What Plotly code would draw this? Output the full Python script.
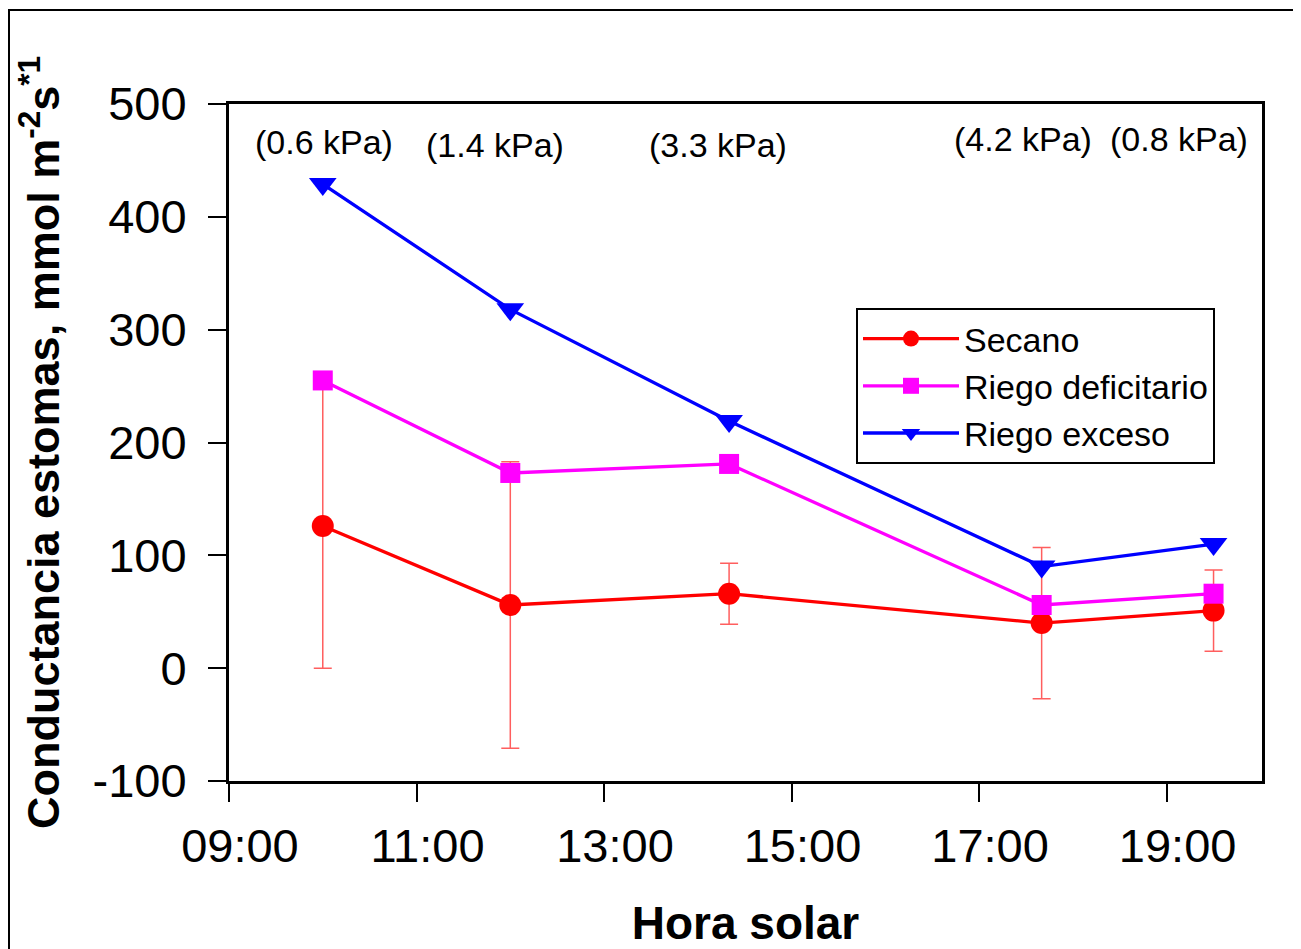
import plotly.graph_objects as go

# Data
times = ["2000-01-01 10:00", "2000-01-01 12:00", "2000-01-01 14:20",
         "2000-01-01 17:40", "2000-01-01 19:30"]
secano = [126, 56, 66, 40, 51]
secano_err = [126, 127, 27, 67, 36]
deficitario = [255, 173, 181, 56, 66]
exceso = [429, 318, 219, 90, 110]

y_ticks = [-100, 0, 100, 200, 300, 400, 500]
y_ticktext = ["-100", "0", "100", "200", "300", "400", "500"]

vpd_labels = ["(0.6 kPa)", "(1.4 kPa)", "(3.3 kPa)", "(4.2 kPa)", "(0.8 kPa)"]
vpd_x = ["2000-01-01 10:01", "2000-01-01 11:50", "2000-01-01 14:13",
         "2000-01-01 17:28", "2000-01-01 19:08"]
vpd_y = [466, 464, 464, 469, 469]

FONT = "Liberation Sans, Arial, sans-serif"

W, H = 1293, 941
L, T = 221, 96
PW, PH = 1033, 677

fig = go.Figure()
fig.add_trace(go.Scatter(
    x=times, y=secano, name="Secano", mode="lines+markers",
    line=dict(color="#ff0000", width=3.3),
    marker=dict(symbol="circle", size=22, color="#ff0000"),
    error_y=dict(type="data", array=secano_err, visible=True,
                 color="rgba(255,40,40,0.75)", thickness=1.5, width=9),
))
fig.add_trace(go.Scatter(
    x=times, y=deficitario, name="Riego deficitario", mode="lines+markers",
    line=dict(color="#ff00ff", width=3.3),
    marker=dict(symbol="square", size=20, color="#ff00ff"),
))
fig.add_trace(go.Scatter(
    x=times, y=exceso, name="Riego exceso", mode="lines+markers",
    line=dict(color="#0000ff", width=3.3),
    marker=dict(symbol="triangle-down", size=24, color="#0000ff"),
))
# invisible helper trace so the tick-label axis (xaxis2) is drawn
fig.add_trace(go.Scatter(
    x=times, y=secano, xaxis="x2", yaxis="y", mode="markers",
    marker=dict(opacity=0, size=1), showlegend=False, hoverinfo="skip",
))

for t, xx, yy in zip(vpd_labels, vpd_x, vpd_y):
    fig.add_annotation(x=xx, y=yy, text=t, showarrow=False,
                       font=dict(family=FONT, size=34, color="black"),
                       xanchor="center", yanchor="middle")

# outer frame of the figure
fig.add_shape(type="rect", xref="paper", yref="paper",
              x0=(1 - L) / PW, x1=1.2,
              y0=-0.5, y1=1 + (T - 2) / PH,
              line=dict(color="black", width=2), layer="below")

x_range = ["2000-01-01 09:00", "2000-01-01 20:01"]
# labels axis: same scale, shifted so labels sit slightly right of the ticks
x_label_range = ["2000-01-01 08:53", "2000-01-01 19:54"]

fig.update_layout(
    width=W, height=H,
    margin=dict(l=L, r=W - L - PW, t=T, b=H - T - PH, autoexpand=False),
    paper_bgcolor="white", plot_bgcolor="white",
    font=dict(family=FONT, color="black"),
    showlegend=True,
    legend=dict(x=(856 - 8 - L) / PW, y=1 - (308 - 8 - T) / PH,
                xanchor="left", yanchor="top",
                bgcolor="white", bordercolor="black", borderwidth=2,
                font=dict(family=FONT, size=34, color="black"),
                itemwidth=96, tracegroupgap=0),
    xaxis=dict(
        type="date", range=x_range, automargin=False,
        dtick=7200000, tick0="2000-01-01 09:00",
        ticks="outside", ticklen=18, tickwidth=2, tickcolor="black",
        showticklabels=False,
        showline=True, linecolor="black", linewidth=3, mirror=True,
        showgrid=False, zeroline=False,
    ),
    xaxis2=dict(
        type="date", range=x_label_range, overlaying="x", anchor="y", side="bottom",
        automargin=False,
        tickformat="%H:%M", dtick=7200000, tick0="2000-01-01 09:00",
        ticks="outside", ticklen=18, tickcolor="rgba(0,0,0,0)",
        ticklabelstandoff=6,
        showline=False, showgrid=False, zeroline=False,
        tickfont=dict(family=FONT, size=47, color="black"),
        title=dict(text="<b>Hora solar</b>", standoff=38,
                   font=dict(family=FONT, size=46, color="black")),
    ),
    yaxis=dict(
        range=[-100, 500], tickvals=y_ticks, ticktext=y_ticktext,
        automargin=False,
        ticks="outside", ticklen=18, tickwidth=2, tickcolor="black",
        ticklabelstandoff=12,
        showline=True, linecolor="black", linewidth=3, mirror=True,
        showgrid=False, zeroline=False,
        tickfont=dict(family=FONT, size=47, color="black"),
        title=dict(text="<b>Conductancia estomas, mmol m<sup>-2</sup>s<sup>*1</sup></b>",
                   standoff=19,
                   font=dict(family=FONT, size=45, color="black")),
    ),
)

fig.write_html("out.html")
